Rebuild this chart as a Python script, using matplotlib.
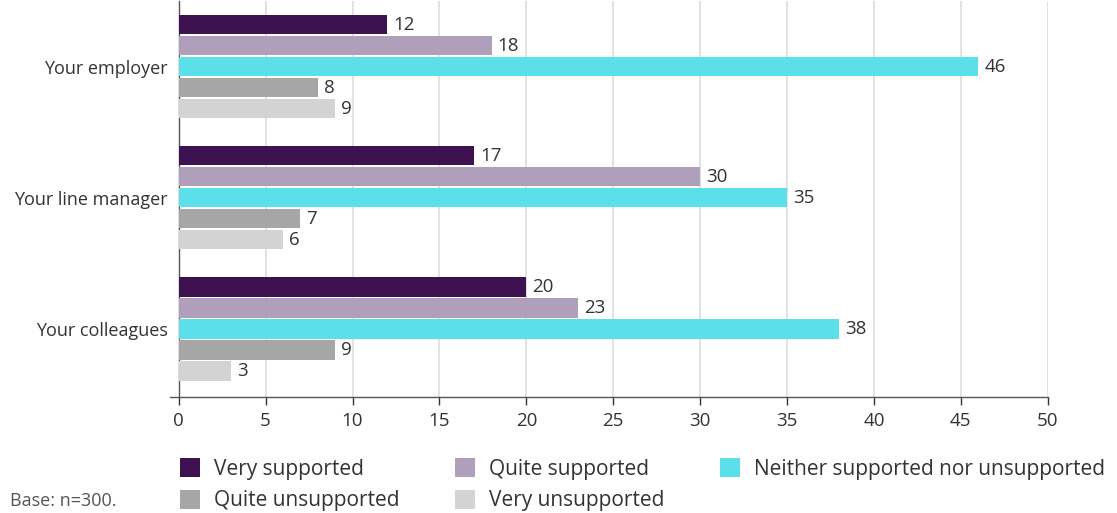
"""Support felt from employer / line manager / colleagues — horizontal grouped bars."""
import matplotlib
matplotlib.use("Agg")
import matplotlib.pyplot as plt
import numpy as np

plt.rcParams["font.family"] = ["Open Sans", "DejaVu Sans"]

# ---------------------------------------------------------------------------
# Data
# ---------------------------------------------------------------------------
groups = ["Your employer", "Your line manager", "Your colleagues"]
series = ["Very supported", "Quite supported", "Neither supported nor unsupported",
          "Quite unsupported", "Very unsupported"]
very_supported = [12, 17, 20]
quite_supported = [18, 30, 23]
neither = [46, 35, 38]
quite_unsupported = [8, 7, 9]
very_unsupported = [9, 6, 3]
x_ticks = [0, 5, 10, 15, 20, 25, 30, 35, 40, 45, 50]
base_note = "Base: n=300."

values = [very_supported, quite_supported, neither, quite_unsupported, very_unsupported]
colors = ["#3e1150", "#b09fba", "#5bdfe9", "#a6a6a6", "#d3d3d3"]

# ---------------------------------------------------------------------------
# Plot
# ---------------------------------------------------------------------------
fig = plt.figure(figsize=(11.17, 5.13), dpi=100)
ax = fig.add_axes([0.160, 0.226, 0.778, 0.772])

y = np.arange(len(groups))
step = 0.16
height = 0.148
handles = []
for i, (name, vals, col) in enumerate(zip(series, values, colors)):
    pos = y + (i - 2) * step
    bars = ax.barh(pos, vals, height=height, color=col, label=name, zorder=3)
    handles.append(bars)
    for b, v in zip(bars, vals):
        ax.text(b.get_width() + 0.35, b.get_y() + b.get_height() / 2, str(v),
                va="center", ha="left", fontsize=13.5, color="#333333", zorder=4)

ax.set_ylim(2.52, -0.5)
ax.set_xlim(0, 50)
ax.set_xticks(x_ticks)
ax.set_yticks(y)
ax.set_yticklabels(groups, fontsize=13, color="#333333")
ax.tick_params(axis="x", labelsize=13.5, colors="#333333", length=6, width=1, pad=5)
ax.tick_params(axis="y", length=0, pad=8)
ax.xaxis.grid(True, color="#dddddd", linewidth=1.2, zorder=0)
for s in ["top", "right"]:
    ax.spines[s].set_visible(False)
for s in ["left", "bottom"]:
    ax.spines[s].set_color("#555555")
    ax.spines[s].set_linewidth(1)
# the x-axis line runs a little past the y-axis in the original
ax.spines["bottom"].set_bounds(-0.5, 50)

# legend: fill column-wise so rows read as in the original
order = [0, 3, 1, 4, 2]
fig.legend([handles[k] for k in order], [series[k] for k in order],
           loc="upper left", bbox_to_anchor=(0.1607, 0.107), ncol=3, frameon=False,
           fontsize=15, handlelength=1.0, handleheight=1.0, handletextpad=0.65,
           columnspacing=2.65, labelspacing=0.5, borderaxespad=0, borderpad=0,
           labelcolor="#333333")

fig.text(0.009, 0.014, base_note, fontsize=13, color="#555555")

fig.savefig("out.png", dpi=100)
